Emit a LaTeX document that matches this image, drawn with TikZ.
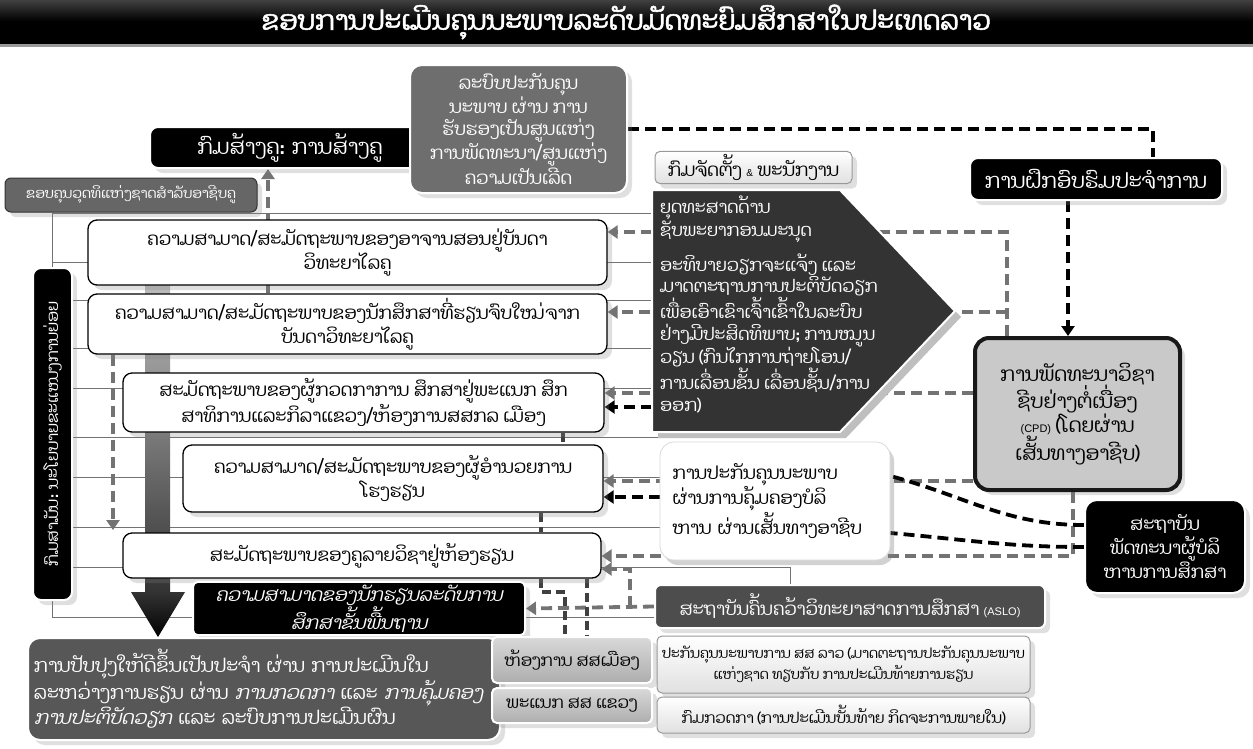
\documentclass[tikz,border=0pt]{standalone}
\usepackage{fontspec}
\setmainfont[Script=Lao]{Dhyana}
\newfontfamily\laoit[Script=Lao,FakeSlant=0.22]{Dhyana}
\newfontfamily\laobf[Script=Lao,FakeBold=1.8]{Dhyana}
\newfontfamily\lat{Liberation Sans}
\usetikzlibrary{shadows,arrows.meta}
\pgfdeclarelayer{bg}
\pgfsetlayers{bg,main}
\newcommand\fsz[2]{\fontsize{#1}{#2}\selectfont}
\definecolor{gA}{HTML}{6E6E6E}
\definecolor{kobc}{HTML}{666666}
\definecolor{pentc}{HTML}{333333}
\definecolor{asloc}{HTML}{4D4D4D}
\definecolor{imprc}{HTML}{575757}
\definecolor{cpdc}{HTML}{C9C9C9}
\tikzset{
  base/.style={inner sep=3pt, align=center},
  shad/.style={drop shadow={shadow xshift=5pt, shadow yshift=-5pt, opacity=0.25}},
  rowbox/.style={base, shad, draw=black, line width=1.3pt, fill=white, rounded corners=9pt, font=\fsz{18}{24}},
  blackbox/.style={base, shad, draw=white, line width=2pt, fill=black, text=white, rounded corners=8pt},
  graybox/.style={base, shad, draw=white, line width=2pt, fill=gA, text=white, rounded corners=12pt},
  lightbox/.style={base, shad, draw=black!40, line width=1pt, top color=white, bottom color=black!12, rounded corners=5pt},
  midbox/.style={base, shad, draw=white, line width=2pt, top color=black!15, bottom color=black!32, rounded corners=5pt},
  gdash/.style={draw=black!55, line width=3.8pt, dash pattern=on 11pt off 6pt},
  bdash/.style={draw=black, line width=3.8pt, dash pattern=on 11pt off 6pt},
  ddash/.style={draw=black!75, line width=3.4pt, dash pattern=on 9pt off 5pt},
  arr/.style={-{Triangle[length=10pt,width=13pt]}},
  thinl/.style={draw=black!55, line width=0.9pt},
}
\begin{document}
\begin{tikzpicture}[x=1pt,y=-1pt]
\useasboundingbox (0,0) rectangle (1253,748);
% title bar
\fill[black!40] (0,38) rectangle (1253,47);
\shade[top color=black!75, bottom color=black, middle color=black] (0,0) rectangle (1253,43);
\node[text=white, font=\laobf\fsz{27}{32}] (title) at (626,22) {ຂອບການປະເມີນຄຸນນະພາບລະດັບມັດທະຍົມສຶກສາໃນປະເທດລາວ};

% top nodes
\node[blackbox, minimum width=270, minimum height=41, font=\fsz{21}{24}] (kst) at (285,147.5) {\hspace*{10pt}ກົມສ້າງຄູ: ການສ້າງຄູ};
\node[graybox, minimum width=217, minimum height=128, font=\fsz{18}{21.5}] (gbox) at (518.5,129) {ລະບົບປະກັນຄຸນ\\ນະພາບ ຜ່ານ ການ\\ຮັບຮອງເປັນສູນແຫ່ງ\\ການພັດທະນາ/ສູນແຫ່ງ\\ຄວາມເປັນເລີດ};
\node[lightbox, minimum width=197, minimum height=31, font=\fsz{18}{20}] (kjt) at (753.5,167.5) {ກົມຈັດຕັ້ງ {\lat\fsz{10}{12}\&} ພະນັກງານ};
\node[base, shad, draw=black!80, line width=1pt, fill=kobc, text=white, rounded corners=6pt, minimum width=252, minimum height=34, font=\fsz{14}{17}] (kob) at (131,195) {ຂອບຄຸນວຸດທິແຫ່ງຊາດສຳລັບອາຊີບຄູ};
\node[blackbox, minimum width=252, minimum height=42, font=\fsz{21}{24}] (train) at (1096,179) {ການຝຶກອົບຮົມປະຈຳການ};

% left vertical
\node[blackbox, rotate=90, minimum width=332, minimum height=39, font=\fsz{16}{18}] (vert) at (52.5,434) {ກົມສາມັນ: ນະໂຍບາຍຂະແໜງການຍ່ອຍ};

% rows
\node[rowbox, minimum width=519, minimum height=65] (r1) at (347.5,252.5) {ຄວາມສາມາດ/ສະມັດຖະພາບຂອງອາຈານສອນຢູ່ບັນດາ\\ວິທະຍາໄລຄູ};
\node[rowbox, minimum width=519, minimum height=60] (r2) at (347.5,324) {ຄວາມສາມາດ/ສະມັດຖະພາບຂອງນັກສຶກສາທີ່ຮຽນຈົບໃໝ່ຈາກ\\ບັນດາວິທະຍາໄລຄູ};
\node[rowbox, minimum width=481, minimum height=59] (r3) at (363.5,402.5) {ສະມັດຖະພາບຂອງຜູ້ກວດກາການ ສຶກສາຢູ່ພະແນກ ສຶກ\\ສາທິການແລະກິລາແຂວງ/ຫ້ອງການສສກລ ເມືອງ};
\node[rowbox, minimum width=420, minimum height=67] (r4) at (393,478.5) {ຄວາມສາມາດ/ສະມັດຖະພາບຂອງຜູ້ອຳນວຍການ\\ໂຮງຮຽນ};
\node[rowbox, minimum width=478, minimum height=45] (r5) at (362,555.5) {ສະມັດຖະພາບຂອງຄູລາຍວິຊາຢູ່ຫ້ອງຮຽນ};

% student & improvement
\node[blackbox, rounded corners=5pt, minimum width=332, minimum height=43, font=\laoit\fsz{18.5}{21}] (stud) at (359,608.5) {ຄວາມສາມາດຂອງນັກຮຽນລະດັບການ\\ສຶກສາຂັ້ນພື້ນຖານ};
\node[base, shad, draw=white, line width=2pt, fill=imprc, text=white, rounded corners=12pt, minimum width=472, minimum height=102, inner sep=6pt, text width=460, align=left, font=\fsz{19}{25}] (impr) at (264,689) {ການປັບປຸງໃຫ້ດີຂຶ້ນເປັນປະຈຳ ຜ່ານ ການປະເມີນໃນ\\ລະຫວ່າງການຮຽນ ຜ່ານ {\laoit ການກວດກາ} ແລະ {\laoit ການຄຸ້ມຄອງ}\\{\laoit ການປະຕິບັດວຽກ} ແລະ ລະບົບການປະເມີນຜົນ};
\node[midbox, minimum width=160, minimum height=46, font=\fsz{16.5}{18}] (dist) at (572,660) {ຫ້ອງການ ສສເມືອງ};
\node[midbox, minimum width=160, minimum height=35, font=\fsz{16.5}{18}] (prov) at (572,705.5) {ພະແນກ ສສ ແຂວງ};

% bottom right
\node[base, shad, draw=white, line width=2pt, fill=asloc, text=white, rounded corners=6pt, minimum width=390, minimum height=43, font=\fsz{18}{22}] (aslo) at (850,606.5) {ສະຖາບັນຄົ້ນຄວ້າວິທະຍາສາດການສຶກສາ {\lat\fsz{11}{13}(ASLO)}};
\node[lightbox, minimum width=373, minimum height=57, font=\fsz{14}{21}] (qa1) at (843.5,664.5) {ປະກັນຄຸນນະພາບການ ສສ ລາວ (ມາດຕະຖານປະກັນຄຸນນະພາບ\\ແຫ່ງຊາດ ທຽບກັບ ການປະເມີນທ້າຍການຮຽນ};
\node[lightbox, minimum width=373, minimum height=36, font=\fsz{15}{19}] (insp) at (843.5,715) {ກົມກວດກາ (ການປະເມີນບັ້ນທ້າຍ ກິດຈະການພາຍໃນ)};

% pentagon (HR strategy)
\fill[black!25] (658,196) -- (846,196) -- (961,317) -- (846,438) -- (658,438) -- cycle;
\filldraw[fill=pentc, draw=white, line width=2pt] (652,190) -- (840,190) -- (955,311) -- (840,432) -- (652,432) -- cycle;
\node[anchor=north west, text=white, align=left, inner sep=0pt, font=\fsz{17.5}{21.5}] (hr) at (660,196) {ຍຸດທະສາດດ້ານ\\ຊັບພະຍາກອນມະນຸດ\\[10pt]ອະທິບາຍວຽກຈະແຈ້ງ ແລະ\\ມາດຕະຖານການປະຕິບັດວຽກ\\ເພື່ອເອົາເຂົາເຈົ້າເຂົ້າໃນລະບົບ\\ຢ່າງມີປະສິດທິພາບ; ການໝູນ\\ວຽນ (ກົນໄກການຖ່າຍໂອນ/\\ການເລື່ອນຂັ້ນ ເລື່ອນຊັ້ນ/ການ\\ອອກ)};
\coordinate (pentL) at (652,407);

% QA through career path
\node[base, draw=black!15, line width=0.8pt, fill=white, rounded corners=14pt, minimum width=230, minimum height=118, text width=205, align=left, font=\fsz{18}{22.5}, drop shadow={shadow xshift=4pt, shadow yshift=-5pt, opacity=0.35}] (qa) at (775,501) {ການປະກັນຄຸນນະພາບ\\ຜ່ານການຄຸ້ມຄອງບໍລິ\\ຫານ ຜ່ານເສັ້ນທາງອາຊີບ};

% CPD and institute
\node[base, shad, draw=black!90, line width=4pt, fill=cpdc, rounded corners=14pt, minimum width=205, minimum height=152, font=\fsz{20}{24}] (cpd) at (1077.5,414) {ການພັດທະນາວິຊາ\\ຊີບຢ່າງຕໍ່ເນື່ອງ\\{\lat\fsz{11}{13}(CPD)} (ໂດຍຜ່ານ\\ເສັ້ນທາງອາຊີບ)};
\node[blackbox, rounded corners=12pt, minimum width=160, minimum height=93, font=\fsz{18}{24}] (inst) at (1165,546.5) {ສະຖາບັນ\\ພັດທະນາຜູ້ບໍລິ\\ຫານການສຶກສາ};

\begin{pgfonlayer}{bg}
  \fill[white] (0,0) rectangle (1253,748);
  % grid lines
  \foreach \yy in {213,262,300,348,388,477,527}
    \draw[thinl] (52,\yy) -- (700,\yy);
  \draw[thinl] (52,437) -- (660,437);
  \draw[thinl] (kob.south -| 52,0) -- (52,617) -- (660,617);
  \draw[thinl] (52,567) -- (790,567) -- (aslo.north -| 790,0);
  % big arrow
  \shade[top color=black!20, bottom color=black!80] (145,250) rectangle (170,592);
  \shade[top color=black!80, bottom color=black] (131,592) -- (185,592) -- (158,637) -- cycle;
  % connectors
  \draw[bdash] (gbox.east) -| (train.north -| 1153,0);
  \draw[bdash, arr] (train.south -| 1068,0) -- (cpd.north -| 1068,0);
  \draw[gdash, arr] (r2.north -| 268,0) -- (kst.south -| 268,0);
  \draw[gdash, arr] (r2.south -| 113,0) -- (113,530);
  \draw[gdash, arr] (cpd.north -| 1007,0) |- (r1.east |- 0,232);
  \draw[gdash, arr] (1007,312) -- (r2.east |- 0,312);
  \draw[gdash, arr] (cpd.west |- 0,393) -- (r3.east |- 0,393);
  \draw[bdash, arr] (pentL) -- (r3.east |- pentL);
  \draw[gdash, arr] (cpd.west |- 0,481) -- (r4.east |- 0,481);
  \draw[bdash, arr] (qa.west |- 0,497) -- (r4.east |- 0,497);
  \draw[gdash, arr] (cpd.south -| 1073,0) |- (r5.east |- 0,556);
  \draw[gdash, arr] (aslo.west) -- (stud.east);
  \draw[gdash, arr] (aslo.west -| 630,0) |- (r5.east |- 0,569);
  \draw[bdash] (inst.west |- 0,525) to[out=180, in=-15] (qa.east |- 0,476);
  \draw[bdash] (inst.west |- 0,547) to[out=180, in=-5] (qa.east |- 0,533);
  \draw[ddash] (r3.south -| 563,0) -- (r4.north -| 563,0);
  \draw[ddash] (r4.south -| 541,0) -- (r5.north -| 541,0);
  \draw[ddash] (r5.south -| 541,0) -- (541,592) -- (565,592) -- (dist.north -| 565,0);
  \draw[ddash] (r5.south -| 587,0) -- (dist.north -| 587,0);
\end{pgfonlayer}
\end{tikzpicture}
\end{document}
